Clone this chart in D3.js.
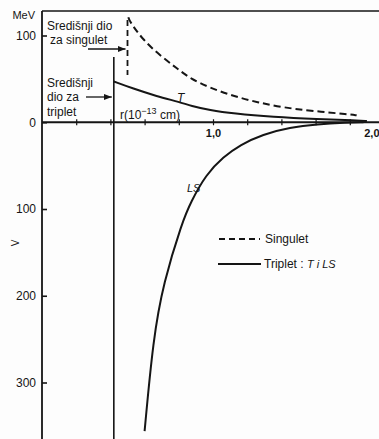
<!DOCTYPE html>
<html>
<head>
<meta charset="utf-8">
<script src="https://cdn.jsdelivr.net/npm/d3@7"></script>
<style>
  body { margin: 0; background: #fdfdfd; }
  svg text { font-family: "Liberation Sans", Arial, sans-serif; fill: #151515; }
</style>
</head>
<body>
<svg id="chart"></svg>
<script>
// values: r in 10^-13 cm, V in MeV (repulsion up)
var singletR = [0.505, 0.51, 0.59, 0.69, 0.79, 0.87, 0.98, 1.12, 1.26, 1.41, 1.58, 1.80, 1.84];
var singletV = [121, 117, 95, 77, 62, 50, 40, 30, 23, 17, 13, 9, 8];

var tripletR = [0.42, 0.53, 0.67, 0.81, 0.87, 0.98, 1.12, 1.35, 1.61, 1.84, 1.90];
var tripletV = [47, 39, 30, 23, 19, 14, 10, 6, 3.5, 2, 1.5];

var lsR = [0.60, 0.65, 0.71, 0.82, 0.87, 0.96, 1.06, 1.16, 1.29, 1.45, 1.61, 1.78, 1.88];
var lsV = [-356, -250, -185, -115, -92, -60, -40, -26, -14, -6, -2.3, -0.5, 0];

var rTicks = [0.2, 0.4, 0.6, 0.8, 1.0, 1.2, 1.4, 1.6, 1.8, 2.0];
var rLabels = [1.0, 2.0];
var vTicks = [100, 0, -100, -200, -300];

var coreTriplet = 0.42, coreSinglet = 0.5;

var width = 379, height = 439;

var svg = d3.select("#chart")
    .attr("width", width)
    .attr("height", height);

var xScale = d3.scaleLinear().domain([0, 2]).range([42, 384]);
var yScale = d3.scaleLinear().domain([100, -300]).range([35.5, 382.5]);

var ink = "#151515";

// frame: top line, left axis line
svg.append("line").attr("x1", 42).attr("x2", width).attr("y1", 11).attr("y2", 11)
    .attr("stroke", ink).attr("stroke-width", 1.6);
svg.append("line").attr("x1", 42).attr("x2", 42).attr("y1", 11).attr("y2", height)
    .attr("stroke", ink).attr("stroke-width", 1.8);

// y axis ticks + labels
var yAxis = svg.append("g")
    .attr("transform", "translate(42,0)")
    .call(d3.axisLeft(yScale).tickValues(vTicks).tickSizeInner(-5).tickSizeOuter(0)
        .tickPadding(6).tickFormat(function (d) { return Math.abs(d); }));
yAxis.select(".domain").remove();
yAxis.selectAll(".tick line").attr("stroke", ink).attr("stroke-width", 1.6);
yAxis.selectAll(".tick text").style("font-size", "12px").attr("font-family", null);

// x axis at V = 0
var y0 = yScale(0);
svg.append("line").attr("x1", 42).attr("x2", width).attr("y1", y0).attr("y2", y0)
    .attr("stroke", ink).attr("stroke-width", 1.8);
var xAxis = svg.append("g")
    .attr("transform", "translate(0," + (y0 - 3) + ")")
    .call(d3.axisBottom(xScale).tickValues(rTicks).tickSizeInner(6).tickSizeOuter(0)
        .tickPadding(4)
        .tickFormat(function (d) {
            return rLabels.indexOf(d) >= 0 ? d3.format(".1f")(d).replace(".", ",") : "";
        }));
xAxis.select(".domain").remove();
xAxis.selectAll(".tick line").attr("stroke", ink).attr("stroke-width", 1.2);
xAxis.selectAll(".tick text").style("font-size", "11px").attr("font-family", null)
    .attr("font-weight", "bold")
    .attr("text-anchor", function (d) { return d === 2 ? "end" : "middle"; })
    .attr("dx", function (d) { return d === 2 ? -5 : 0; });

// core radii
svg.append("line")
    .attr("x1", xScale(coreTriplet)).attr("x2", xScale(coreTriplet))
    .attr("y1", 57).attr("y2", height)
    .attr("stroke", ink).attr("stroke-width", 1.6);
svg.append("line")
    .attr("x1", xScale(coreSinglet)).attr("x2", xScale(coreSinglet))
    .attr("y1", 20).attr("y2", 75)
    .attr("stroke", ink).attr("stroke-width", 1.8).attr("stroke-dasharray", "6,4");

// curves
var line = d3.line()
    .x(function (d) { return xScale(d[0]); })
    .y(function (d) { return yScale(d[1]); })
    .curve(d3.curveBasis);

svg.append("path").datum(d3.zip(singletR, singletV))
    .attr("d", line).attr("fill", "none").attr("stroke", ink)
    .attr("stroke-width", 2).attr("stroke-dasharray", "7,4");
svg.append("path").datum(d3.zip(tripletR, tripletV))
    .attr("d", line).attr("fill", "none").attr("stroke", ink).attr("stroke-width", 2);
svg.append("path").datum(d3.zip(lsR, lsV))
    .attr("d", line).attr("fill", "none").attr("stroke", ink).attr("stroke-width", 2);

// arrows
svg.append("defs").append("marker")
    .attr("id", "arr").attr("viewBox", "0 0 10 10").attr("refX", 10).attr("refY", 5)
    .attr("markerWidth", 6).attr("markerHeight", 6).attr("orient", "auto")
    .append("path").attr("d", "M0,1L10,5L0,9Z").attr("fill", ink);
svg.append("line").attr("x1", 88).attr("x2", xScale(coreSinglet) - 2).attr("y1", 49).attr("y2", 49)
    .attr("stroke", ink).attr("stroke-width", 1.3).attr("marker-end", "url(#arr)");
svg.append("line").attr("x1", 86).attr("x2", xScale(coreTriplet) - 2).attr("y1", 97).attr("y2", 97)
    .attr("stroke", ink).attr("stroke-width", 1.3).attr("marker-end", "url(#arr)");

// texts
function label(x, y, t, opts) {
    opts = opts || {};
    return svg.append("text").attr("x", x).attr("y", y)
        .attr("text-anchor", opts.anchor || "start")
        .style("font-size", (opts.size || 12) + "px")
        .style("font-style", opts.italic ? "italic" : null)
        .text(t);
}
label(35, 19, "MeV", {anchor: "end", size: 11});
label(47, 30, "Središnji dio");
label(50, 44, "za singulet");
label(47, 87, "Središnji");
label(47, 101, "dio za");
label(47, 116, "triplet");
label(177, 102, "T", {italic: true});
label(187, 192, "LS", {italic: true, size: 11});

var rl = svg.append("text").attr("x", 120).attr("y", 119).style("font-size", "12px");
rl.append("tspan").text("r(10");
rl.append("tspan").attr("dy", -5).style("font-size", "9px").text("−13");
rl.append("tspan").attr("dy", 5).text(" cm)");

svg.append("text").attr("transform", "translate(19,243) rotate(-90)")
    .attr("text-anchor", "middle").style("font-size", "10px").text("V");

// legend
svg.append("line").attr("x1", 219).attr("x2", 260).attr("y1", 239).attr("y2", 239)
    .attr("stroke", ink).attr("stroke-width", 2).attr("stroke-dasharray", "6,4");
label(265, 243, "Singulet");
svg.append("line").attr("x1", 218).attr("x2", 261).attr("y1", 264).attr("y2", 264)
    .attr("stroke", ink).attr("stroke-width", 2);
var lt = label(264, 268, "Triplet : ");
lt.append("tspan").style("font-style", "italic").style("font-size", "11px").text("T i LS");
</script>
</body>
</html>
